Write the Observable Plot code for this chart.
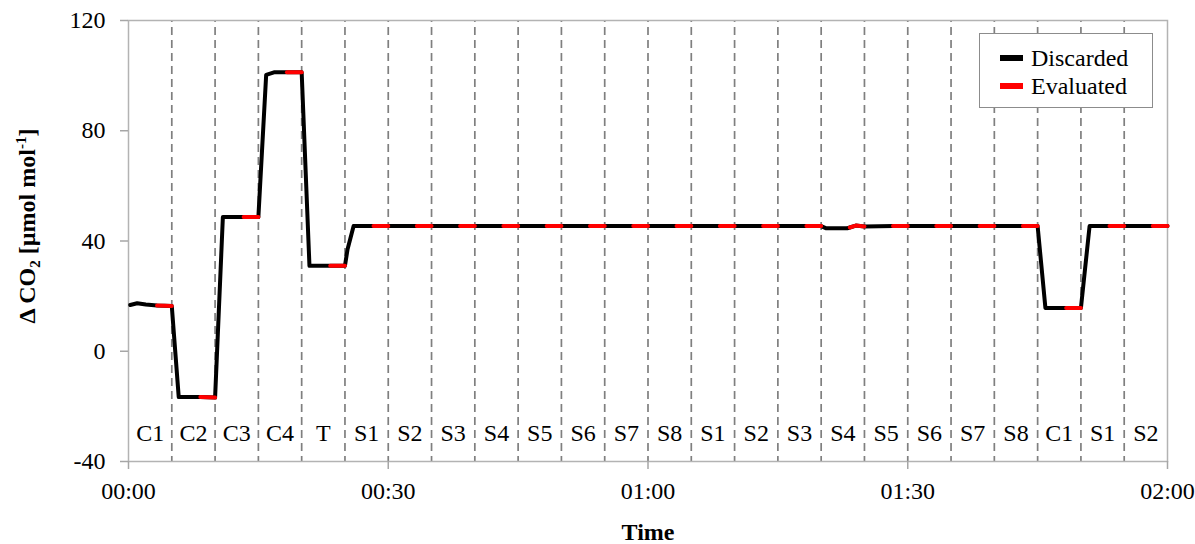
<!DOCTYPE html>
<html>
<head>
<meta charset="utf-8">
<script src="https://cdn.jsdelivr.net/npm/d3@7"></script>
<script src="https://cdn.jsdelivr.net/npm/@observablehq/plot@0.6"></script>
<style>
  html, body { margin: 0; padding: 0; background: #fff; }
  #wrap { position: relative; width: 1195px; height: 544px; font-family: "Liberation Serif", "Times New Roman", serif; }
  #legend { position: absolute; left: 979px; top: 33px; width: 174px; height: 75px; border: 1px solid #8c8c8c; background: #fff; box-sizing: border-box; font-size: 24px; color: #000; }
  .item { position: absolute; left: 20px; height: 28px; line-height: 28px; white-space: nowrap; }
  .sw { display: inline-block; width: 23px; height: 6px; vertical-align: middle; margin-right: 8px; position: relative; top: -2px; }
</style>
</head>
<body>
<div id="wrap"></div>
<script>
// ---- data (minutes since start, ΔCO2 in µmol mol-1) ----
const minutes = [
  0.2, 1.0, 2.0, 3.3, 5.0,
  5.8, 8.3, 10.0,
  10.9, 13.3, 15.0,
  15.9, 16.8, 18.3, 20.0,
  20.9, 23.3, 25.0,
  25.3, 26.0, 28.3, 30.0,
  33.3, 35.0, 38.3, 40.0, 43.3, 45.0, 48.3, 50.0, 53.3, 55.0,
  58.3, 60.0, 63.3, 65.0, 68.3, 70.0, 73.3, 75.0, 78.3, 80.0,
  80.6, 83.0, 83.3, 84.0, 85.0,
  88.3, 90.0, 93.3, 95.0, 98.3, 100.0, 103.3, 105.0,
  105.9, 108.3, 110.0,
  111.0, 113.3, 115.0, 118.3, 120.0
];
const co2 = [
  16.8, 17.4, 17.0, 16.6, 16.4,
  -16.6, -16.6, -16.8,
  48.7, 48.7, 48.7,
  100.3, 101.2, 101.2, 101.2,
  31.0, 31.0, 31.0,
  37.0, 45.4, 45.4, 45.4,
  45.4, 45.4, 45.4, 45.4, 45.4, 45.4, 45.4, 45.4, 45.4, 45.4,
  45.4, 45.4, 45.4, 45.4, 45.4, 45.4, 45.4, 45.4, 45.4, 45.4,
  44.6, 44.6, 44.9, 45.6, 45.3,
  45.4, 45.4, 45.4, 45.4, 45.4, 45.4, 45.4, 45.4,
  15.7, 15.7, 15.7,
  45.4, 45.4, 45.4, 45.4, 45.4
];
const segmentLabels = ["C1","C2","C3","C4","T","S1","S2","S3","S4","S5","S6","S7","S8",
                       "S1","S2","S3","S4","S5","S6","S7","S8","C1","S1","S2"];
const segmentMinutes = 5;
const evaluatedMinutes = 1.7;   // last part of each segment that is evaluated
const xTicks = [0, 30, 60, 90, 120];
const yTicks = [-40, 0, 40, 80, 120];

// ---- derived tables ----
const segStart = segmentLabels.map((_, i) => i * segmentMinutes);
const segEnd = segStart.map(s => s + segmentMinutes);
const segMid = segStart.map(s => s + segmentMinutes / 2);
const boundaries = segEnd.slice(0, -1);
const series = minutes.map((t, i) => ({t, v: co2[i],
  w: segEnd.findIndex(e => t >= e - evaluatedMinutes - 1e-6 && t <= e + 1e-6)}));
const evaluated = series.filter(d => d.w >= 0);
const labels = segmentLabels.map((l, i) => ({l, x: segMid[i]}));
const fmt = m => String(Math.floor(m / 60)).padStart(2, "0") + ":" + String(m % 60).padStart(2, "0");

const chart = Plot.plot({
  width: 1195, height: 544,
  marginLeft: 128, marginRight: 28, marginTop: 20, marginBottom: 83,
  style: {fontFamily: "'Liberation Serif', 'Times New Roman', serif", fontSize: "24px", color: "#000", background: "#fff"},
  x: {domain: [0, 120]},
  y: {domain: [-40, 120]},
  marks: [
    Plot.ruleX(boundaries, {stroke: "#7f7f7f", strokeWidth: 1.7, strokeDasharray: "8,5", strokeDashoffset: 6}),
    Plot.frame({stroke: "#b3b3b3", strokeWidth: 1.5}),
    Plot.axisX({ticks: xTicks, tickFormat: fmt, tickSize: 8, tickPadding: 12, stroke: "#a6a6a6", strokeWidth: 1.5, fill: "#000", label: null}),
    Plot.axisY({ticks: yTicks, tickFormat: d => String(d), tickSize: 8, tickPadding: 15, stroke: "#a6a6a6", strokeWidth: 1.5, fill: "#000", label: null}),
    Plot.line(series, {x: "t", y: "v", stroke: "#000", strokeWidth: 4, curve: "linear"}),
    Plot.line(evaluated, {x: "t", y: "v", z: "w", stroke: "#ff0000", strokeWidth: 4, curve: "linear"}),
    Plot.text(labels, {x: "x", text: "l", frameAnchor: "bottom", dy: -28, lineAnchor: "middle", fill: "#000"}),
    Plot.text(["Time"], {frameAnchor: "bottom", dy: 78, lineAnchor: "bottom", fontWeight: "bold", fill: "#000"})
  ]
});

document.getElementById("wrap").appendChild(chart);

// y-axis title with sub/superscripts
const svg = d3.select(chart);
const yt = svg.append("text")
  .attr("transform", "translate(35,226) rotate(-90)")
  .attr("text-anchor", "middle")
  .attr("font-weight", "bold")
  .attr("font-size", 24)
  .attr("fill", "#000");
yt.append("tspan").text("Δ CO");
yt.append("tspan").attr("font-size", 15).attr("dy", 5).text("2");
yt.append("tspan").attr("dy", -5).text(" [µmol mol");
yt.append("tspan").attr("font-size", 15).attr("dy", -9).text("-1");
yt.append("tspan").attr("dy", 9).text("]");

// legend
const legend = document.createElement("div");
legend.id = "legend";
legend.innerHTML =
  '<div class="item" style="top:10px"><span class="sw" style="background:#000"></span>Discarded</div>' +
  '<div class="item" style="top:38px"><span class="sw" style="background:#ff0000"></span>Evaluated</div>';
document.getElementById("wrap").appendChild(legend);
</script>
</body>
</html>
